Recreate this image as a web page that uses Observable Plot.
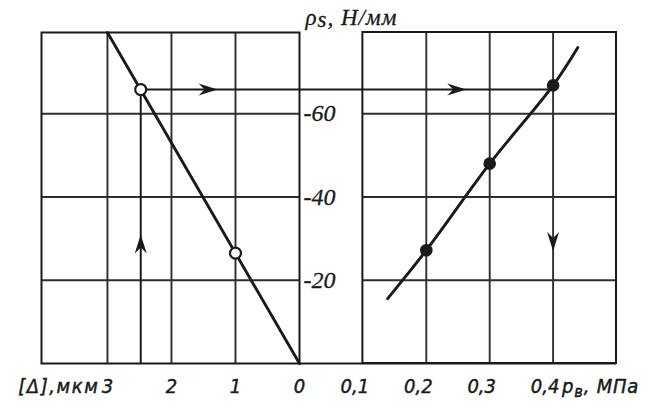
<!DOCTYPE html>
<html><head><meta charset="utf-8">
<script src="https://cdn.jsdelivr.net/npm/d3@7"></script>
<script src="https://cdn.jsdelivr.net/npm/@observablehq/plot@0.6"></script>
<style>
body{margin:0;background:#fff;}
#chart{position:relative;width:650px;height:408px;background:#fff;}
#chart svg{position:absolute;left:0;top:0;background:transparent !important;}
</style></head><body><div id="chart"></div>
<script>
// ---- data ----
const deltaTicks = [3, 2, 1, 0];                 // [Δ], мкм
const pressureTicks = [0.1, 0.2, 0.3, 0.4];      // pв, МПа
const forceTicks = [20, 40, 60];                 // ρs, Н/мм
const deltaGrid = [3, 2, 1];
const pressureGrid = [0.2, 0.3, 0.4];
const deltaDomain = [4.03, 0];
const pressureDomain = [0, 0.5];
const pressurePanel = [0.1, 0.5];
const forceDomain = [0, 79.5];

const deltaLineX = [0, 3];
const deltaLineY = [0, 79.5];
const openX = [1, 2.48];
const openY = [26.5, 65.8];

const pressureLineX = [0.139, 0.2, 0.3, 0.4, 0.439];
const pressureLineY = [15.6, 27.2, 48.0, 66.8, 75.9];
const filledX = [0.2, 0.3, 0.4];
const filledY = [27.2, 48.0, 66.8];

const guideDelta = 2.48;      // vertical construction line (left)
const guideForce = 65.8;      // horizontal construction line
const guidePressure = 0.4;    // vertical construction line (right)
const arrowRightDelta = [1.28];
const arrowUpForce = [31];
const arrowRightPressure = [0.263];
const arrowDownForce = [27];

const deltaLabel = "[Δ],мкм";
const pressureLabel = "pв, МПа";
const forceLabel = "ρs, Н/мм";
const fmtComma = d => String(d).replace(".", ",");

// ---- styles ----
const dark = "#1a1a1a";
const gridC = "#2e2e2e";
const sans = "'DejaVu Sans Condensed', 'Liberation Sans Narrow', 'DejaVu Sans', sans-serif";
const serif = "'Liberation Serif', 'DejaVu Serif', serif";
const notched = {draw(ctx) {ctx.moveTo(0, 0); ctx.lineTo(-19, -6); ctx.lineTo(-13, 0); ctx.lineTo(-19, 6); ctx.closePath();}};
const txt = {fill: dark, stroke: dark, strokeWidth: 0.45, fontStyle: "italic"};

const W = 650, H = 408, mTop = 32, mBottom = 45;

const left = Plot.plot({
  width: W, height: H, marginLeft: 41, marginRight: 351, marginTop: mTop, marginBottom: mBottom,
  style: {background: "transparent"},
  x: {domain: deltaDomain, axis: null},
  y: {domain: forceDomain, axis: null},
  marks: [
    Plot.ruleX(deltaGrid, {stroke: gridC, strokeWidth: 1.9}),
    Plot.ruleY(forceTicks, {stroke: gridC, strokeWidth: 1.9}),
    Plot.frame({stroke: dark, strokeWidth: 2}),
    Plot.ruleX([guideDelta], {y1: 0, y2: guideForce, stroke: dark, strokeWidth: 2}),
    Plot.ruleY([guideForce], {x1: guideDelta, x2: deltaDomain[1], stroke: dark, strokeWidth: 2}),
    Plot.line(d3.zip(deltaLineX, deltaLineY), {stroke: dark, strokeWidth: 2.9}),
    Plot.dot(d3.zip(openX, openY), {r: 5.5, fill: "white", stroke: dark, strokeWidth: 2.2}),
    Plot.dot(arrowRightDelta, {x: d => d, y: () => guideForce, symbol: notched, fill: dark, r: 5}),
    Plot.dot(arrowUpForce, {x: () => guideDelta, y: d => d, symbol: notched, fill: dark, r: 5, rotate: -90}),
    Plot.text(deltaTicks, {x: d => d, text: d => fmtComma(d), frameAnchor: "bottom", lineAnchor: "top", dy: 15,
      fontSize: 20, fontFamily: sans, ...txt}),
    Plot.text([deltaLabel], {x: () => deltaTicks[0], text: d => d, frameAnchor: "bottom", lineAnchor: "top", dy: 15, dx: -8,
      textAnchor: "end", fontSize: 20, fontFamily: sans, ...txt, className: "dlabel"})
  ]
});

const right = Plot.plot({
  width: W, height: H, marginLeft: 299, marginRight: 34, marginTop: mTop, marginBottom: mBottom,
  style: {background: "transparent"},
  x: {domain: pressureDomain, axis: null},
  y: {domain: forceDomain, axis: null},
  marks: [
    Plot.ruleX(pressureGrid, {y1: forceDomain[0], y2: forceDomain[1], stroke: gridC, strokeWidth: 1.9}),
    Plot.ruleY(forceTicks, {x1: pressurePanel[0], x2: pressurePanel[1], stroke: gridC, strokeWidth: 1.9}),
    Plot.rect([pressurePanel], {x1: d => d[0], x2: d => d[1], y1: forceDomain[0], y2: forceDomain[1], fill: "none", stroke: dark, strokeWidth: 2}),
    Plot.ruleY([forceDomain[0]], {x1: pressureDomain[0], x2: pressurePanel[1], stroke: dark, strokeWidth: 2}),
    Plot.ruleY([guideForce], {x1: pressureDomain[0], x2: guidePressure, stroke: dark, strokeWidth: 2}),
    Plot.line(d3.zip(pressureLineX, pressureLineY), {stroke: dark, strokeWidth: 2.9, curve: "catmull-rom"}),
    Plot.dot(d3.zip(filledX, filledY), {r: 6.3, fill: dark}),
    Plot.dot(arrowRightPressure, {x: d => d, y: () => guideForce, symbol: notched, fill: dark, r: 5}),
    Plot.dot(arrowDownForce, {x: () => guidePressure, y: d => d, symbol: notched, fill: dark, r: 5, rotate: 90}),
    Plot.text(pressureTicks, {x: d => d, text: d => fmtComma(d), frameAnchor: "bottom", lineAnchor: "top", dy: 15, dx: -8,
      fontSize: 20, fontFamily: sans, ...txt}),
    Plot.text([pressureLabel], {x: () => pressureTicks[pressureTicks.length - 1], text: d => d, frameAnchor: "bottom", lineAnchor: "top",
      dy: 15, dx: 9, textAnchor: "start", fontSize: 20, fontFamily: sans, ...txt, className: "plabel"}),
    Plot.text(forceTicks, {x: () => pressureDomain[0], y: d => d, text: d => "-" + d, textAnchor: "start", dx: 4,
      fontSize: 24, fontFamily: serif, ...txt, strokeWidth: 0.3}),
    Plot.text([forceLabel], {x: () => pressureDomain[0], text: d => d, frameAnchor: "top", lineAnchor: "bottom", dy: -8, dx: 6,
      textAnchor: "start", fontSize: 23, fontFamily: serif, ...txt, strokeWidth: 0.3, className: "flabel"})
  ]
});

const box = document.getElementById("chart");
box.appendChild(left);
box.appendChild(right);

// spacing and subscripts for the symbol letters
d3.select(left).selectAll(".dlabel text").attr("letter-spacing", "1.6px");
d3.select(right).selectAll(".flabel text").attr("letter-spacing", "1px").each(function() {
  const t = d3.select(this); t.text("");
  t.append("tspan").text("ρ");
  t.append("tspan").attr("dy", "0.12em").text("s");
  t.append("tspan").attr("dy", "-0.12em").text(", Н/мм");
});
d3.select(right).selectAll(".plabel text").attr("letter-spacing", "0.8px").each(function() {
  const t = d3.select(this); t.text("");
  t.append("tspan").text("p");
  t.append("tspan").attr("dy", "0.25em").attr("font-size", "0.8em").text("в");
  t.append("tspan").attr("dy", "-0.2em").text(", МПа");
});
</script></body></html>
